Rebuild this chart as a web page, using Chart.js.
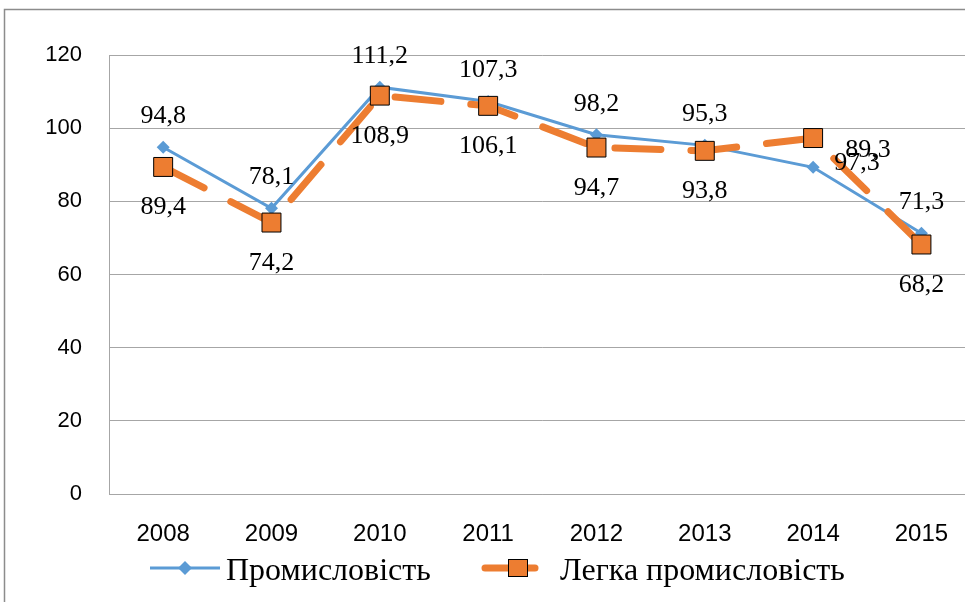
<!DOCTYPE html>
<html>
<head>
<meta charset="utf-8">
<script src="https://cdn.jsdelivr.net/npm/chart.js@4"></script>
<style>
  html, body { margin: 0; padding: 0; background: #fff; overflow: hidden; }
  #wrap { position: relative; width: 990px; height: 602px; }
</style>
</head>
<body>
<div id="wrap"><canvas id="chart" width="990" height="602"></canvas></div>
<script>
const years = ["2008", "2009", "2010", "2011", "2012", "2013", "2014", "2015"]
const industry = [94.8, 78.1, 111.2, 107.3, 98.2, 95.3, 89.3, 71.3]
const lightIndustry = [89.4, 74.2, 108.9, 106.1, 94.7, 93.8, 97.3, 68.2]
const industryName = "Промисловість"
const lightName = "Легка промисловість"
const yTicks = [0, 20, 40, 60, 80, 100, 120]

// where each value label sits around its point
const industryLabelPos = ["above", "above", "above", "above", "above", "above", "aboveRight", "above"]
const lightLabelPos = ["below", "below", "below", "below", "below", "below", "belowRight", "below"]
const labelOffsets = {
    above: [0, -33],
    below: [0, 38],
    aboveRight: [55, -19],
    belowRight: [44, 23]
}

const BLUE = "#5b9bd5"
const ORANGE = "#ed7d31"
const GRID = "#a6a6a6"

function drawText(ctx, text, x, y, font, align) {
    ctx.save()
    ctx.font = font
    ctx.fillStyle = "#000"
    ctx.textBaseline = "alphabetic"
    ctx.textAlign = align
    ctx.fillText(text, x, y)
    ctx.restore()
}

const framePlugin = {
    id: "frame",
    beforeDraw(chart) {
        let ctx = chart.ctx
        ctx.save()
        ctx.strokeStyle = "#8c8c8c"
        ctx.lineWidth = 1.5
        ctx.beginPath()
        ctx.moveTo(4.5, chart.height)
        ctx.lineTo(4.5, 9.5)
        ctx.lineTo(chart.width, 9.5)
        ctx.stroke()
        ctx.restore()
    }
}

const labelPlugin = {
    id: "valueLabels",
    afterDatasetsDraw(chart) {
        let ctx = chart.ctx
        let font = "26px 'Liberation Serif', 'Times New Roman', serif"
        chart.data.datasets.forEach((ds, i) => {
            let meta = chart.getDatasetMeta(i)
            let pos = ds.label == industryName ? industryLabelPos : lightLabelPos
            meta.data.forEach((pt, j) => {
                let off = labelOffsets[pos[j]]
                let text = ds.data[j].toFixed(1).replace(".", ",")
                drawText(ctx, text, pt.x + off[0], pt.y + off[1] + 9, font, "center")
            })
        })

        // category labels under the axis
        let xScale = chart.scales.x
        years.forEach((y, j) => {
            let px = xScale.getPixelForValue(j)
            drawText(ctx, y, px, 541, "24px 'Liberation Sans', Arial, sans-serif", "center")
        })
    },
    afterDraw(chart) {
        let ctx = chart.ctx
        let legY = 568
        let font = "32px 'Liberation Serif', 'Times New Roman', serif"
        ctx.save()
        // blue entry
        ctx.strokeStyle = BLUE
        ctx.lineWidth = 3
        ctx.beginPath()
        ctx.moveTo(150, legY)
        ctx.lineTo(220, legY)
        ctx.stroke()
        ctx.fillStyle = BLUE
        ctx.beginPath()
        ctx.moveTo(185, legY - 7)
        ctx.lineTo(192, legY)
        ctx.lineTo(185, legY + 7)
        ctx.lineTo(178, legY)
        ctx.closePath()
        ctx.fill()
        // orange entry
        ctx.strokeStyle = ORANGE
        ctx.lineWidth = 7
        ctx.lineCap = "round"
        ctx.beginPath()
        ctx.moveTo(485, legY)
        ctx.lineTo(535, legY)
        ctx.stroke()
        ctx.fillStyle = ORANGE
        ctx.fillRect(508, legY - 9, 20, 18)
        ctx.strokeStyle = "#000"
        ctx.lineWidth = 1
        ctx.strokeRect(508.5, legY - 8.5, 19, 17)
        ctx.restore()
        drawText(ctx, industryName, 226, 580, font, "left")
        drawText(ctx, lightName, 560, 580, font, "left")
    }
}

let ctx = document.getElementById("chart").getContext("2d")
var graph = new Chart(ctx, {
    type: "line",
    data: {
        labels: years,
        datasets: [{
            label: industryName,
            data: industry,
            borderColor: BLUE,
            backgroundColor: BLUE,
            borderWidth: 3,
            pointStyle: "rectRot",
            pointRadius: 6.5,
            pointBorderWidth: 0,
            pointBackgroundColor: BLUE,
            tension: 0,
            order: 2
        }, {
            label: lightName,
            data: lightIndustry,
            borderColor: ORANGE,
            backgroundColor: ORANGE,
            borderWidth: 7,
            borderDash: [46, 30],
            borderCapStyle: "round",
            pointStyle: "rect",
            pointRadius: 13.4,
            pointBorderWidth: 1,
            pointBorderColor: "#000",
            pointBackgroundColor: ORANGE,
            tension: 0,
            order: 1
        }]
    },
    options: {
        responsive: false,
        animation: false,
        devicePixelRatio: 1,
        layout: {
            padding: { top: 55, right: 14, bottom: 0, left: 0 }
        },
        plugins: {
            legend: { display: false },
            tooltip: { enabled: false }
        },
        scales: {
            x: {
                offset: true,
                grid: { display: false },
                border: { display: true, color: GRID, width: 1 },
                ticks: { display: false },
                afterFit: (scale) => { scale.height = 108 }
            },
            y: {
                min: 0,
                max: 120,
                afterBuildTicks: (scale) => { scale.ticks = yTicks.map(v => ({ value: v })) },
                grid: { color: GRID, lineWidth: 1, drawTicks: false },
                border: { display: true, color: GRID, width: 1 },
                ticks: {
                    padding: 27,
                    color: "#000",
                    font: { family: "'Liberation Sans', Arial, sans-serif", size: 22 }
                },
                afterFit: (scale) => { scale.width = 109 }
            }
        }
    },
    plugins: [framePlugin, labelPlugin]
})
</script>
</body>
</html>
